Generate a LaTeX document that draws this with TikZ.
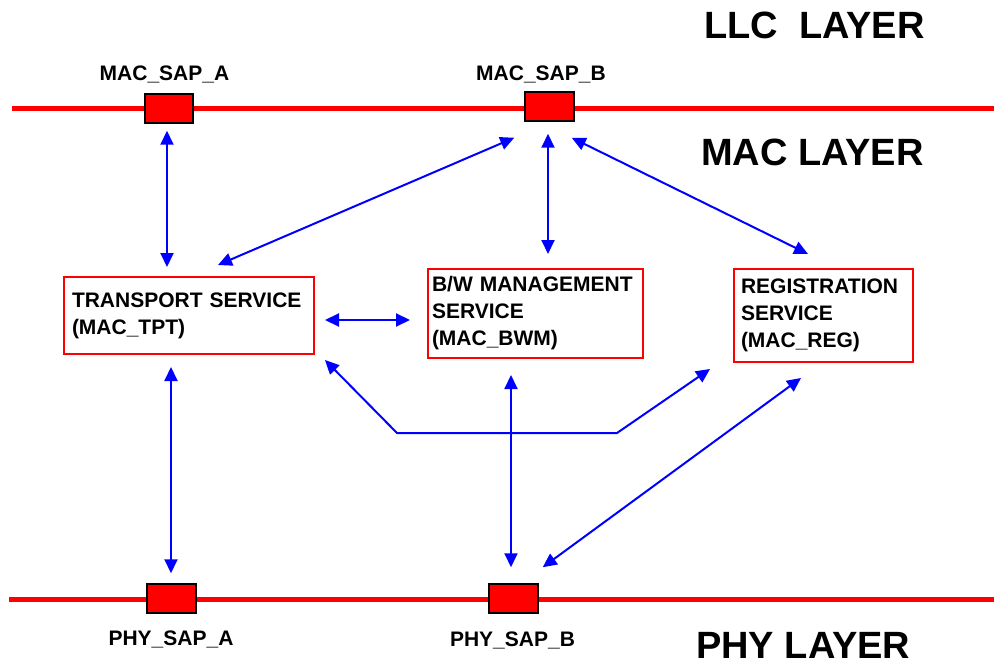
\documentclass[tikz,border=0pt]{standalone}
\usepackage{fontspec}
\setmainfont{Liberation Sans}
\usetikzlibrary{arrows.meta,calc}
\definecolor{pRed}{RGB}{255,0,0}
\definecolor{pBlue}{RGB}{0,0,255}
\begin{document}
\begin{tikzpicture}[x=1pt,y=-1pt,
  layerline/.style={draw=pRed, line width=5pt},
  sap/.style={draw=black, fill=pRed, line width=1.5pt, minimum width=48pt, minimum height=29pt, inner sep=0pt},
  saplbl/.style={font=\fontsize{21}{25}\selectfont\bfseries, inner sep=0pt, anchor=base},
  layerlbl/.style={font=\fontsize{38}{44}\selectfont\bfseries, inner sep=0pt, anchor=base west},
  svc/.style={draw=pRed, line width=2pt, font=\fontsize{21}{27}\selectfont\bfseries, align=left, anchor=north west, inner ysep=0pt},
  arr/.style={draw=pBlue, line width=2pt, {Triangle[length=14pt,width=13pt]}-{Triangle[length=14pt,width=13pt]}}
]
\useasboundingbox (0,0) rectangle (994,666);

% layer lines
\coordinate (topL) at (12,108.5);
\coordinate (topR) at (994,108.5);
\coordinate (botL) at (9,599);
\coordinate (botR) at (994,599);
\draw[layerline] (topL) -- (topR);
\draw[layerline] (botL) -- (botR);

% SAP boxes
\node[sap] (sapA) at (169,108.5) {};
\node[sap, minimum width=49pt] (sapB) at (549.5,106.5) {};
\node[sap, minimum width=49pt] (phyA) at (171.5,598.5) {};
\node[sap, minimum width=49pt] (phyB) at (513.5,598.5) {};

% SAP labels
\node[saplbl] (lblSapA) at (164.5,81) {MAC\_SAP\_A};
\node[saplbl] (lblSapB) at (541,81) {MAC\_SAP\_B};
\node[saplbl] (lblPhyA) at (171,645) {PHY\_SAP\_A};
\node[saplbl] (lblPhyB) at (512.5,646) {PHY\_SAP\_B};

% layer labels
\node[layerlbl] (llc) at (704,39) {LLC~~LAYER};
\node[layerlbl] (mac) at (701,166) {MAC LAYER};
\node[layerlbl] (phy) at (696,658) {PHY LAYER};

% service boxes
\node[svc, inner xsep=8pt, text width=234pt, minimum height=77pt] (tpt) at (63,276) {TRANSPORT SERVICE\\(MAC\_TPT)};
\node[svc, inner xsep=4pt, text width=207pt, minimum height=89pt] (bwm) at (427,268) {B/W MANAGEMENT\\SERVICE\\(MAC\_BWM)};
\node[svc, inner xsep=7pt, text width=165pt, minimum height=93pt] (reg) at (733,268) {REGISTRATION\\SERVICE\\(MAC\_REG)};

% connectors
\draw[arr] ($(sapA.south)+(-2,7)$) -- ($(sapA.south |- tpt.north)+(-2,-9)$);
\draw[arr] ($(sapB.south west)+(-10,16)$) -- ($(tpt.north west)+(155,-11)$);
\draw[arr] ($(sapB.south)+(-1.5,12)$) -- ($(sapB.south |- bwm.north)+(-1.5,-14)$);
\draw[arr] ($(sapB.south east)+(-3,16)$) -- ($(reg.north west)+(75,-14)$);
\draw[arr] ($(tpt.east)+(10,4.5)$) -- ($(bwm.west)+(-17,6.5)$);
\coordinate (bendL) at (397,433);
\coordinate (bendR) at (617,433);
\draw[arr] ($(tpt.south east)+(10,5)$) -- (bendL) -- (bendR) -- ($(reg.south west)+(-23,6)$);
\draw[arr] ($(phyA.north |- tpt.south)+(-0.5,12)$) -- ($(phyA.north)+(-0.5,-10)$);
\draw[arr] ($(phyB.north |- bwm.south)+(-2.5,16)$) -- ($(phyB.north)+(-2.5,-16)$);
\draw[arr] ($(reg.south west)+(68,15)$) -- ($(phyB.north east)+(4,-16)$);
\end{tikzpicture}
\end{document}
